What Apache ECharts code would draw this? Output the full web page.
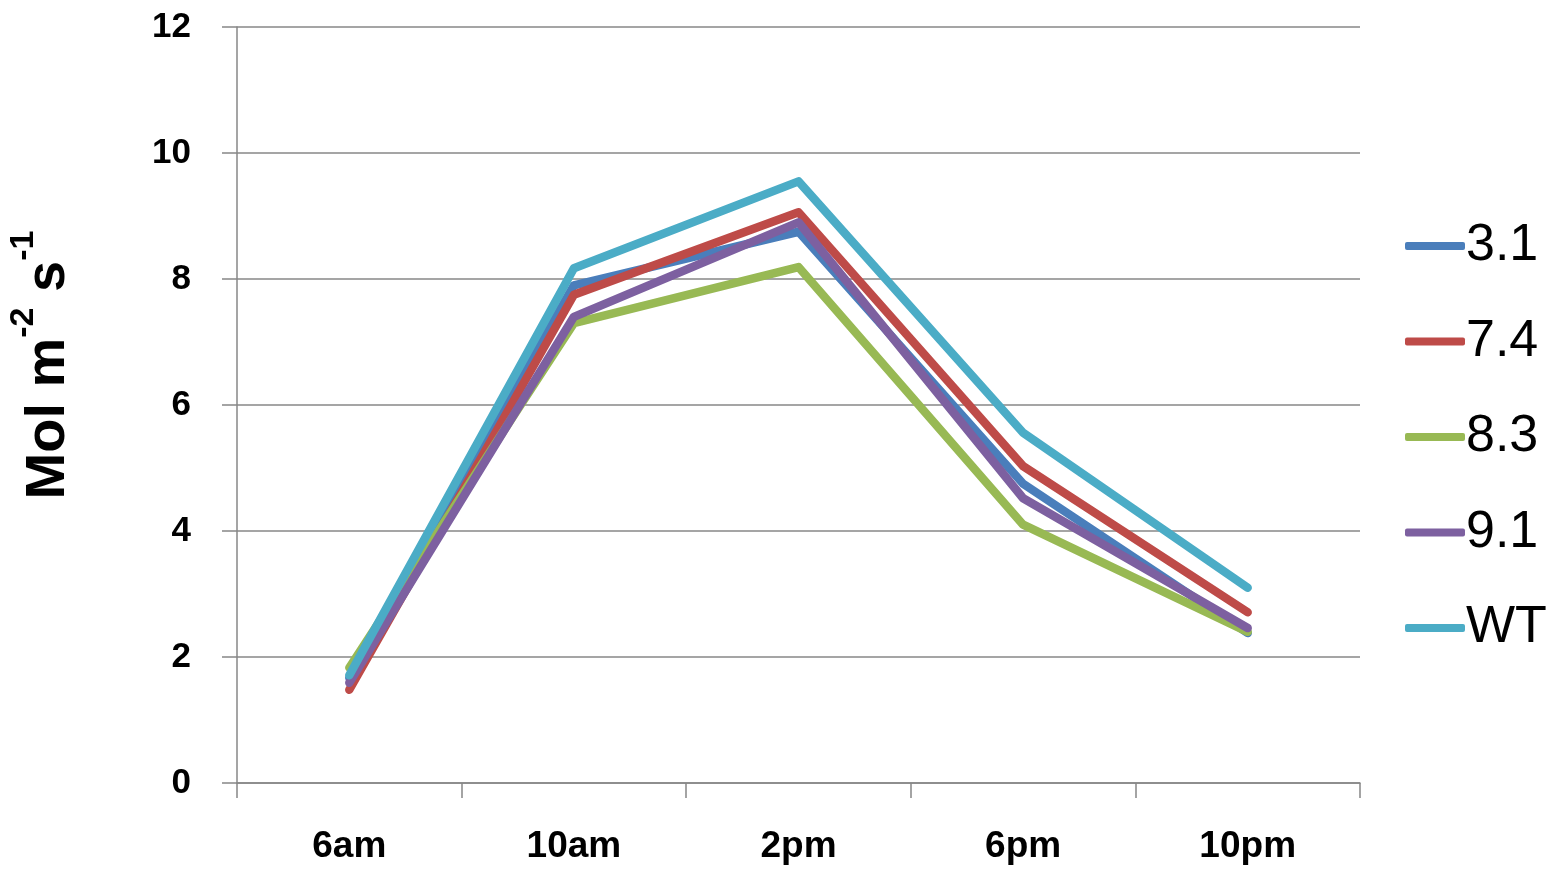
<!DOCTYPE html>
<html><head><meta charset="utf-8">
<script src="https://cdn.jsdelivr.net/npm/echarts@6/dist/echarts.min.js"></script>
<style>html,body{margin:0;padding:0;background:#fff}#c{width:1564px;height:869px}</style>
</head><body><div id="c"></div>
<script>
const categories = ['6am', '10am', '2pm', '6pm', '10pm'];
const s31 = [1.67, 7.9, 8.75, 4.75, 2.38];
const s74 = [1.48, 7.75, 9.06, 5.03, 2.71];
const s83 = [1.83, 7.3, 8.19, 4.1, 2.4];
const s91 = [1.59, 7.4, 8.9, 4.52, 2.46];
const sWT = [1.71, 8.17, 9.55, 5.56, 3.1];
const seriesNames = ['3.1', '7.4', '8.3', '9.1', 'WT'];
const colors = ['#4A7EBB', '#BE4B48', '#98B954', '#7D60A0', '#4BACC6'];
const yTicks = { min: 0, max: 12, interval: 2 };

const data = [s31, s74, s83, s91, sWT];
const chart = echarts.init(document.getElementById('c'));
const font = 'Liberation Sans';
chart.setOption({
  animation: false,
  color: colors,
  grid: { left: 237, right: 204, top: 27, bottom: 86, outerBoundsMode: 'none', containLabel: false },
  legend: {
    orient: 'vertical', left: 1400, top: 215,
    itemWidth: 60, itemHeight: 8, itemGap: 43.5,
    icon: 'roundRect',
    textStyle: { fontFamily: font, fontSize: 52, color: '#000', padding: [0, 0, 0, -4] },
    data: seriesNames
  },
  xAxis: {
    type: 'category', data: categories, boundaryGap: true,
    axisLine: { lineStyle: { color: '#878787', width: 1.5 } },
    axisTick: { show: true, length: 15, lineStyle: { color: '#878787', width: 1.5 } },
    axisLabel: { fontFamily: font, fontWeight: 'bold', fontSize: 37, color: '#000', margin: 45 }
  },
  yAxis: {
    type: 'value', min: yTicks.min, max: yTicks.max, interval: yTicks.interval,
    name: '{b|Mol m}{s|-2}{b| s}{s|-1}', nameLocation: 'middle', nameGap: 160, nameRotate: 90,
    nameTextStyle: {
      fontFamily: font, fontWeight: 'bold', fontSize: 56, color: '#000',
      padding: [0, 0, 0, 80],
      rich: {
        b: { fontFamily: font, fontWeight: 'bold', fontSize: 56, color: '#000', lineHeight: 70, verticalAlign: 'bottom' },
        s: { fontFamily: font, fontWeight: 'bold', fontSize: 34, color: '#000', lineHeight: 70, verticalAlign: 'top' }
      }
    },
    axisLine: { show: true, lineStyle: { color: '#878787', width: 1.5 } },
    axisTick: { show: true, length: 15, lineStyle: { color: '#878787', width: 1.5 } },
    splitLine: { lineStyle: { color: '#878787', width: 1.5 } },
    axisLabel: { fontFamily: font, fontWeight: 'bold', fontSize: 35, color: '#000', margin: 46 }
  },
  series: seriesNames.map((n, i) => ({
    name: n, type: 'line', data: data[i], symbol: 'none',
    lineStyle: { width: 8.5, color: colors[i], cap: 'round', join: 'round' },
    itemStyle: { color: colors[i] }
  }))
});
</script></body></html>
